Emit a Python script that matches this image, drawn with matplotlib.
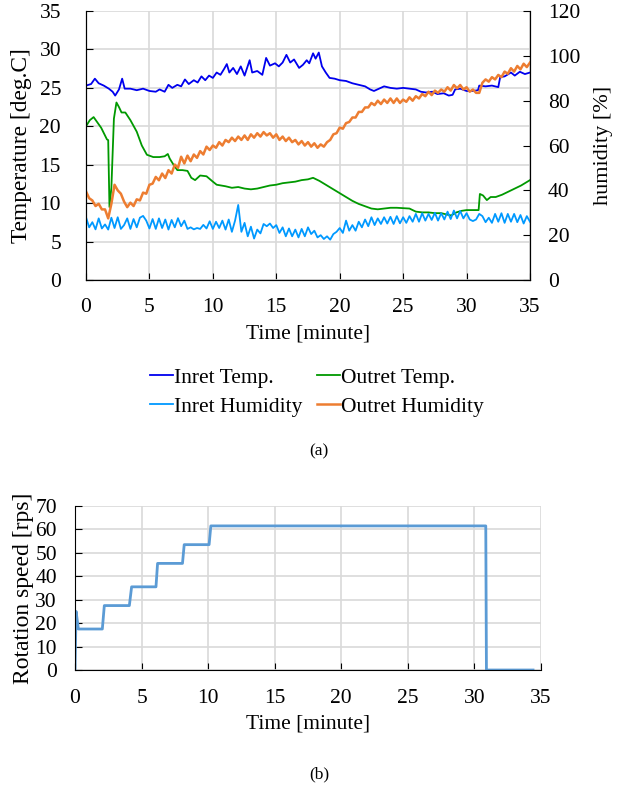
import matplotlib
matplotlib.use("Agg")
import matplotlib.pyplot as plt

plt.rcParams['font.family'] = ['Liberation Serif', 'DejaVu Serif']

# ---- (a) temperatures [deg.C] ----
t_in_temp = [0, 0.4, 0.7, 1.0, 1.4, 1.8, 2.1, 2.3, 2.6, 2.85, 3.05, 3.5, 4.0, 4.5, 5.0,
             5.5, 5.8, 6.2, 6.5, 6.8, 7.2, 7.5, 7.8, 8.1, 8.5, 8.8, 9.1, 9.4, 9.7, 10.0,
             10.3, 10.6, 10.9, 11.1, 11.3, 11.6, 11.9, 12.2, 12.5, 12.9, 13.1, 13.5, 13.9,
             14.2, 14.5, 14.9, 15.2, 15.5, 15.8, 16.1, 16.4, 16.8, 17.1, 17.4, 17.6, 17.9,
             18.1, 18.35, 18.6, 18.9, 19.2, 19.6, 20.0, 20.5, 21.0, 21.5, 22.0, 22.4, 22.7,
             23.1, 23.5, 24.0, 24.5, 25.0, 25.5, 26.0, 26.4, 26.8, 27.3, 27.7, 28.2, 28.6,
             28.9, 29.1, 29.5, 30.0, 30.5, 30.9, 31.0, 31.5, 32.0, 32.5, 32.65, 33.0, 33.5,
             33.8, 34.2, 34.6, 35.0]
in_temp = [25.3, 25.5, 26.2, 25.6, 25.3, 24.9, 24.5, 24.0, 24.8, 26.2, 24.9, 24.9, 24.7, 24.9, 24.6,
           24.5, 24.8, 24.5, 25.4, 25.0, 25.4, 25.2, 26.1, 25.5, 26.0, 25.7, 26.5, 26.0, 26.6, 26.3,
           27.0, 26.7, 27.5, 28.1, 27.0, 27.6, 26.8, 27.8, 26.6, 28.6, 27.0, 27.2, 26.7,
           28.9, 27.9, 28.2, 27.8, 28.3, 29.3, 28.3, 28.7, 27.6, 28.0, 28.6, 28.2, 29.5,
           28.8, 29.6, 27.8, 27.0, 26.3, 26.2, 26.0, 25.9, 25.6, 25.4, 25.2, 24.8, 24.6,
           24.9, 25.2, 25.0, 24.9, 25.0, 24.9, 24.8, 24.5, 24.4, 24.5, 24.2, 24.3, 24.0,
           24.1, 24.8, 24.9, 24.6, 24.6, 24.7, 25.3, 25.2, 25.3, 25.1, 26.4, 26.5, 27.0,
           26.6, 27.1, 26.8, 27.0]

t_out_temp = [0, 0.3, 0.6, 0.9, 1.2, 1.5, 1.65, 1.75, 1.85, 2.0, 2.2, 2.4, 2.6, 2.8, 3.1,
              3.5, 4.0, 4.4, 4.8, 5.3, 5.8, 6.2, 6.45, 6.6, 6.9, 7.2, 7.6, 8.0, 8.3, 8.6,
              9.0, 9.5, 10.0, 10.3, 11.0, 11.5, 12.0, 12.5, 13.0, 13.5, 14.0, 14.5, 15.0,
              15.5, 16.0, 16.5, 17.0, 17.5, 17.9, 18.4, 19.0, 19.5, 20.0, 20.5, 21.0, 21.5,
              22.0, 22.5, 23.0, 23.5, 24.0, 24.5, 25.0, 25.5, 26.0, 26.5, 27.0, 27.5, 28.0,
              28.5, 28.8, 29.2, 29.6, 30.0, 30.5, 30.95, 31.05, 31.3, 31.6, 31.9, 32.3, 32.8,
              33.3, 33.8, 34.3, 34.7, 35.0]
out_temp = [20.0, 20.8, 21.2, 20.5, 19.8, 18.8, 18.3, 18.2, 9.5, 12.0, 21.0, 23.1, 22.5, 21.8, 21.8,
            20.8, 19.3, 17.5, 16.3, 16.0, 16.0, 16.1, 16.4, 15.8, 15.0, 14.3, 14.3, 14.2, 13.3, 13.0,
            13.6, 13.5, 12.8, 12.4, 12.2, 12.0, 12.1, 11.9, 11.8, 11.9, 12.1, 12.3, 12.4,
            12.6, 12.7, 12.8, 13.0, 13.1, 13.3, 12.9, 12.3, 11.8, 11.3, 10.8, 10.3, 9.9,
            9.6, 9.3, 9.2, 9.3, 9.4, 9.4, 9.35, 9.3, 8.9, 8.8, 8.8, 8.7, 8.7,
            8.5, 8.4, 8.8, 9.0, 9.1, 9.1, 9.1, 11.2, 11.0, 10.4, 10.8, 10.8, 11.1,
            11.5, 11.9, 12.3, 12.7, 13.0]

# ---- (a) humidity [%], sampled every 0.25 min ----
t_hum = [i * 0.25 for i in range(141)]
in_hum = [28.0, 23.5, 25.8, 22.6, 27.5, 23.0, 24.8, 22.5, 27.8, 23.2, 28.0, 22.8, 24.5, 27.5, 22.8,
          27.2, 23.5, 27.8, 28.6, 26.5, 23.0, 27.2, 22.8, 27.5, 23.2, 27.0, 22.5, 26.8, 23.5, 27.6,
          24.0, 26.5, 22.8, 23.5, 22.6, 23.2, 22.8, 24.6, 23.0, 26.2, 22.8, 26.0, 23.2, 26.5, 22.5,
          27.0, 21.5, 26.5, 33.5, 21.5, 25.5, 19.5, 23.8, 18.5, 22.5, 20.8, 25.0, 24.0, 25.2, 23.2,
          24.5, 21.0, 23.5, 19.5, 23.0, 19.5, 22.5, 19.0, 22.8, 19.5, 23.5, 20.5, 22.0, 19.0, 20.0,
          18.3, 19.5, 18.0, 20.5, 21.5, 23.2, 21.0, 26.5, 22.0, 24.5, 22.0, 26.0, 23.5, 27.0, 24.0,
          28.0, 24.5, 27.5, 25.0, 28.0, 25.2, 28.2, 25.0, 28.5, 25.3, 28.0, 25.5, 28.5, 26.0, 29.5,
          26.0, 29.8, 26.5, 29.5, 26.8, 30.0, 26.5, 29.8, 27.0, 30.5, 27.2, 31.0, 27.5, 30.8, 27.5,
          29.8, 27.0, 26.3, 27.0, 29.5, 28.5, 25.8, 27.8, 25.5, 29.5, 26.0, 29.8, 25.5, 29.5, 26.0,
          29.5, 25.8, 29.0, 25.2, 28.5, 26.0]
out_hum = [39.5, 36.5, 35.5, 33.0, 34.0, 31.5, 31.5, 27.5, 34.0, 42.5, 40.0, 38.5, 35.0, 32.5, 34.5,
           33.0, 36.0, 35.5, 39.0, 38.5, 42.5, 43.0, 46.0, 44.5, 47.5, 45.5, 49.0, 47.5, 51.5, 50.0,
           55.0, 52.0, 55.5, 53.0, 56.0, 54.5, 57.5, 56.0, 59.5, 58.0, 60.0, 59.0, 61.5, 60.0, 62.5,
           61.5, 63.5, 62.0, 64.0, 62.5, 64.5, 62.5, 65.0, 63.5, 65.5, 64.0, 66.0, 64.5, 65.5, 63.5,
           65.0, 62.5, 64.0, 62.0, 63.5, 61.5, 62.5, 60.5, 62.0, 60.0, 61.5, 59.5, 61.0, 59.0, 60.5,
           59.5, 61.5, 62.5, 65.0, 65.5, 68.0, 67.5, 70.0, 70.5, 72.5, 72.5, 75.0, 75.0, 77.0, 77.0,
           79.0, 78.0, 80.0, 78.5, 80.5, 79.0, 81.0, 79.0, 81.0, 79.0, 80.5, 79.5, 81.5, 80.0, 82.0,
           81.0, 83.0, 82.0, 84.0, 82.5, 84.5, 83.5, 85.0, 84.0, 86.0, 84.5, 87.0, 85.5, 87.0, 85.0,
           86.0, 84.0, 85.0, 83.5, 83.5, 88.0, 89.5, 88.5, 90.5, 89.5, 91.5, 90.5, 93.0, 92.0, 94.5,
           93.0, 95.5, 94.0, 96.5, 95.0, 97.0]

# ---- (b) rotation speed [rps] ----
t_rot = [0, 0.08, 0.25, 2.05, 2.2, 4.08, 4.25, 6.08, 6.2, 8.07, 8.2, 10.07, 10.2, 30.85, 30.9, 34.4]
rot = [0, 25, 17.5, 17.5, 27.5, 27.5, 35.5, 35.5, 45.5, 45.5, 53.5, 53.5, 61.5, 61.5, 0, 0]

GRID = '#d9d9d9'

fig = plt.figure(figsize=(6.38, 7.89), dpi=100)

# top chart
ax = fig.add_axes([0.1348, 0.6451, 0.6959, 0.3409])
ax2 = ax.twinx()
l1, = ax.plot(t_in_temp, in_temp, color='#0000ee', lw=1.3, label='Inret Temp.')
l2, = ax.plot(t_out_temp, out_temp, color='#009900', lw=1.3, label='Outret Temp.')
l3, = ax2.plot(t_hum, in_hum, color='#0099ff', lw=1.3, label='Inret Humidity')
l4, = ax2.plot(t_hum, out_hum, color='#ed7d31', lw=1.8, label='Outret Humidity')

ax.set_xlim(0, 35)
ax.set_ylim(0, 35)
ax2.set_ylim(0, 120)
ax.set_xticks(range(0, 36, 5))
ax.set_yticks(range(0, 36, 5))
ax2.set_yticks(range(0, 121, 20))
ax.grid(True, color=GRID, lw=1.2)
ax.set_axisbelow(True)
ax.spines['top'].set_visible(False)
ax2.spines['top'].set_visible(False)
ax.tick_params(direction='in', length=5, labelsize=15.5, pad=13)
ax.tick_params(axis='y', pad=18)
ax2.tick_params(direction='in', length=5, labelsize=15.5, pad=13)
ax.set_xlabel('Time [minute]', fontsize=15.5, labelpad=5)
ax.set_ylabel('Temperature [deg.C]', fontsize=16.8, labelpad=5)
ax2.set_ylabel('humidity [%]', fontsize=16, labelpad=10)

fig.legend([l1, l3, l2, l4], [h.get_label() for h in [l1, l3, l2, l4]],
           loc='center', bbox_to_anchor=(0.497, 0.503), ncol=2, frameon=False,
           fontsize=15.5, handlelength=1.05, handletextpad=0.05, columnspacing=0.7,
           labelspacing=0.4)
fig.text(0.5, 0.428, '(a)', ha='center', va='center', fontsize=12.5)

# bottom chart
bx = fig.add_axes([0.1176, 0.1508, 0.7304, 0.2079])
bx.plot(t_rot, rot, color='#5b9bd5', lw=2)
bx.set_xlim(0, 35)
bx.set_ylim(0, 70)
bx.set_xticks(range(0, 36, 5))
bx.set_yticks(range(0, 71, 10))
bx.grid(True, color=GRID, lw=1.2)
bx.set_axisbelow(True)
bx.spines['top'].set_visible(False)
bx.spines['right'].set_visible(False)
bx.tick_params(direction='in', length=5, labelsize=15.5, pad=14)
bx.tick_params(axis='y', pad=13)
bx.set_xlabel('Time [minute]', fontsize=15.5, labelpad=4)
bx.set_ylabel('Rotation speed [rps]', fontsize=17, labelpad=1)
fig.text(0.5, 0.018, '(b)', ha='center', va='center', fontsize=12.5)

fig.savefig('out.png', dpi=100)
